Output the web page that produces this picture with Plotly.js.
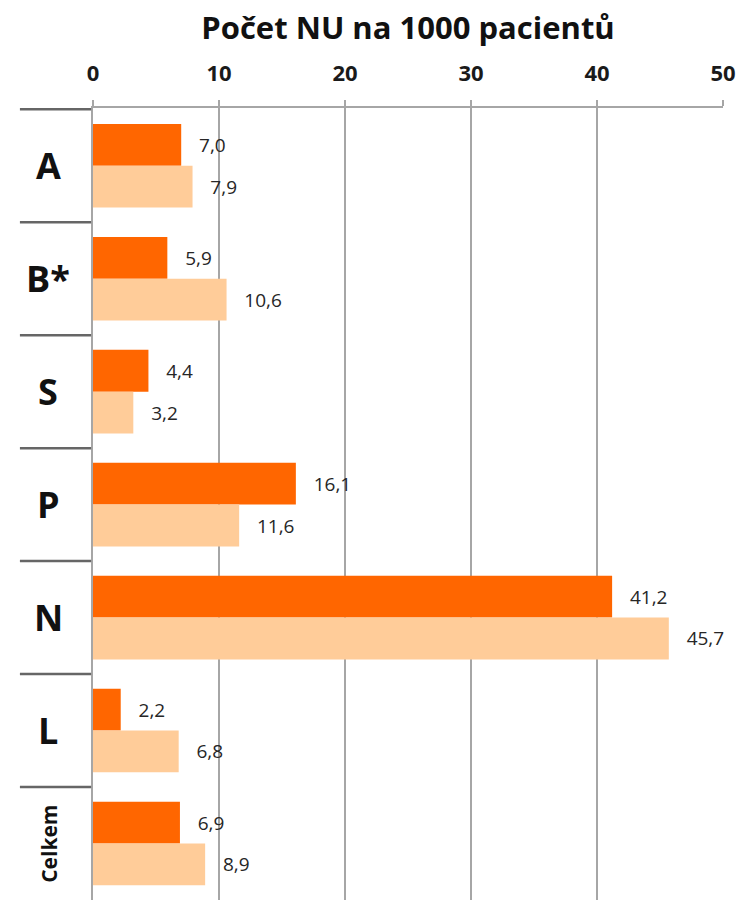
<!DOCTYPE html>
<html>
<head>
<meta charset="utf-8">
<script src="https://cdn.plot.ly/plotly-3.0.1.min.js"></script>
<style>html,body{margin:0;padding:0;background:#fff;}#chart{width:741px;height:900px;}</style>
</head>
<body>
<div id="chart"></div>
<script>
const categories = ["A", "B*", "S", "P", "N", "L", "Celkem"];
const series1Values = [7.0, 5.9, 4.4, 16.1, 41.2, 2.2, 6.9];
const series2Values = [7.9, 10.6, 3.2, 11.6, 45.7, 6.8, 8.9];
const xTickValues = [0, 10, 20, 30, 40, 50];
const chartTitle = "Počet NU na 1000 pacientů";

const labelFont = {family: "Open Sans, sans-serif", size: 19, color: "#262626"};
const pad = "\u00a0\u00a0\u00a0";

const traces = [
  {type: "bar", orientation: "h", y: categories, x: series1Values,
   marker: {color: "#FF6600"}, texttemplate: pad + "%{x:.1f}", textposition: "outside",
   textfont: labelFont, cliponaxis: false, hoverinfo: "none"},
  {type: "bar", orientation: "h", y: categories, x: series2Values,
   marker: {color: "#FFCC99"}, texttemplate: pad + "%{x:.1f}", textposition: "outside",
   textfont: labelFont, cliponaxis: false, hoverinfo: "none"}
];

const shapes = [];
for (let k = -1; k < categories.length - 1; k++) {
  shapes.push({type: "line", xref: "paper", yref: "y", x0: -0.116, x1: -0.003,
    y0: k + 0.5, y1: k + 0.5, line: {color: "#666666", width: 2.5}});
}

const annotations = categories.map((c, i) => {
  const isLong = c.length > 2;
  return {xref: "paper", yref: "y", x: -0.071, y: c, text: c, showarrow: false,
    xanchor: "center", yanchor: "middle", textangle: isLong ? -90 : 0,
    font: {family: "Open Sans, sans-serif", size: isLong ? 21 : 36, color: "#111111", weight: "bold"}};
});

const layout = {
  width: 741, height: 900,
  margin: {l: 93, r: 18, t: 108, b: 0},
  paper_bgcolor: "#ffffff", plot_bgcolor: "#ffffff",
  separators: ", ",
  showlegend: false,
  barmode: "group", bargap: 0.26, bargroupgap: 0,
  title: {text: chartTitle, x: 0.5, xref: "paper", xanchor: "center",
    y: 1 - 28 / 900, yref: "container", yanchor: "middle",
    font: {family: "Open Sans, sans-serif", size: 31, color: "#111111", weight: "bold"}},
  xaxis: {side: "top", range: [0, 50], tickvals: xTickValues, ticktext: xTickValues.map(String),
    showgrid: true, gridcolor: "#A6A6A6", gridwidth: 2, zeroline: false,
    showline: true, linecolor: "#A6A6A6", linewidth: 2,
    ticks: "outside", ticklen: 6, tickwidth: 2, tickcolor: "#A6A6A6",
    tickfont: {family: "Open Sans, sans-serif", size: 22, color: "#1a1a1a", weight: "bold"},
    ticklabelstandoff: 10, fixedrange: true},
  yaxis: {type: "category", autorange: "reversed", showticklabels: false, ticks: "",
    showgrid: false, zeroline: false, showline: true, linecolor: "#A6A6A6", linewidth: 2,
    fixedrange: true},
  shapes: shapes,
  annotations: annotations
};

Plotly.newPlot("chart", traces, layout, {displayModeBar: false, staticPlot: true});
</script>
</body>
</html>
